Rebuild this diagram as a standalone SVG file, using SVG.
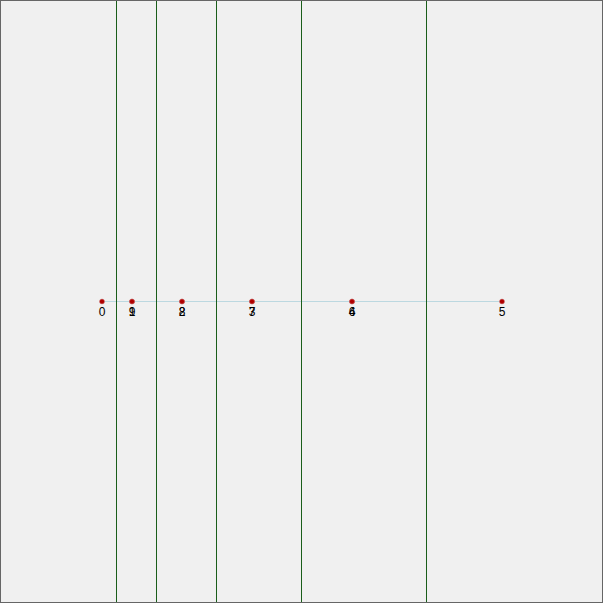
<svg xmlns="http://www.w3.org/2000/svg" width="603" height="603" viewBox="0 0 603 603">
<style>
.v{stroke:#1a5e1a;stroke-width:1;fill:none}
.pt{fill:#b00000;stroke:#d08080;stroke-width:0.5}
.lbl{font-family:"Liberation Sans",Arial,sans-serif;font-size:12px;fill:#000;text-anchor:middle}
</style>
<rect x="0.5" y="0.5" width="602" height="602" fill="#f0f0f0" stroke="#666" stroke-width="1"/>
<g id="connectors">
<line x1="102" y1="301.5" x2="502" y2="301.5" stroke="#bcd8e0" stroke-width="1"/>
</g>
<g id="guides">
<line class="v" x1="116.5" y1="1" x2="116.5" y2="602"/>
<line class="v" x1="156.5" y1="1" x2="156.5" y2="602"/>
<line class="v" x1="216.5" y1="1" x2="216.5" y2="602"/>
<line class="v" x1="301.5" y1="1" x2="301.5" y2="602"/>
<line class="v" x1="426.5" y1="1" x2="426.5" y2="602"/>
</g>
<g id="n0"><circle class="pt" cx="102" cy="301.5" r="2.5"/><text class="lbl" x="102" y="316">0</text></g>
<g id="n1"><circle class="pt" cx="132" cy="301.5" r="2.5"/><text class="lbl" x="132" y="316">1</text></g>
<g id="n2"><circle class="pt" cx="182" cy="301.5" r="2.5"/><text class="lbl" x="182" y="316">2</text></g>
<g id="n3"><circle class="pt" cx="252" cy="301.5" r="2.5"/><text class="lbl" x="252" y="316">3</text></g>
<g id="n4"><circle class="pt" cx="352" cy="301.5" r="2.5"/><text class="lbl" x="352" y="316">4</text></g>
<g id="n5"><circle class="pt" cx="502" cy="301.5" r="2.5"/><text class="lbl" x="502" y="316">5</text></g>
<g id="n6"><circle class="pt" cx="352" cy="301.5" r="2.5"/><text class="lbl" x="352" y="316">6</text></g>
<g id="n7"><circle class="pt" cx="252" cy="301.5" r="2.5"/><text class="lbl" x="252" y="316">7</text></g>
<g id="n8"><circle class="pt" cx="182" cy="301.5" r="2.5"/><text class="lbl" x="182" y="316">8</text></g>
<g id="n9"><circle class="pt" cx="132" cy="301.5" r="2.5"/><text class="lbl" x="132" y="316">9</text></g>
</svg>
